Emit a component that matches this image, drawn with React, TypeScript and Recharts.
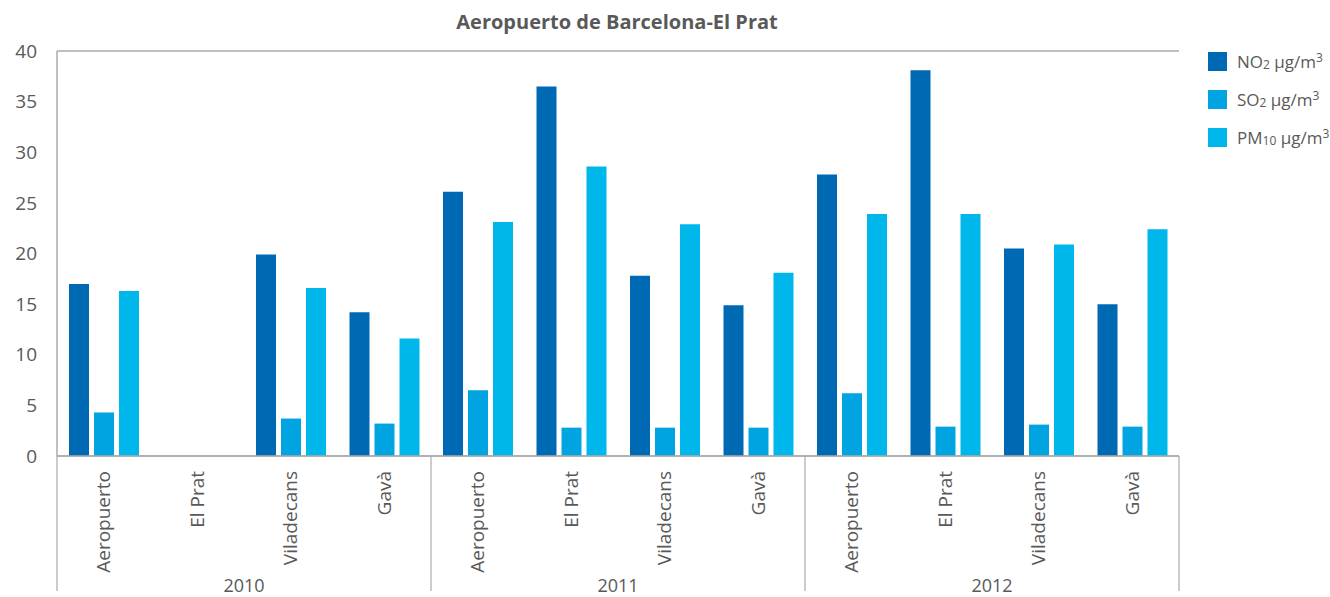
import React from "react";
import { BarChart, Bar, XAxis, YAxis, CartesianGrid } from "recharts";

const years = ["2010", "2011", "2012"];
const stations = ["Aeropuerto", "El Prat", "Viladecans", "Gavà"];

// one value per station per year, in the order years × stations
const no2 = [17.0, null, 19.9, 14.2, 26.1, 36.5, 17.8, 14.9, 27.8, 38.1, 20.5, 15.0];
const so2 = [4.3, null, 3.7, 3.2, 6.5, 2.8, 2.8, 2.8, 6.2, 2.9, 3.1, 2.9];
const pm10 = [16.3, null, 16.6, 11.6, 23.1, 28.6, 22.9, 18.1, 23.9, 23.9, 20.9, 22.4];

const yTicks = [0, 5, 10, 15, 20, 25, 30, 35, 40];

const series = [
  { key: "no2", base: "NO", sub: "2", color: "#0069b4" },
  { key: "so2", base: "SO", sub: "2", color: "#00a4e1" },
  { key: "pm10", base: "PM", sub: "10", color: "#00b7eb" },
];

const data = years.flatMap((year, yi) =>
  stations.map((station, si) => {
    const i = yi * stations.length + si;
    return { id: `${year}-${station}`, year, station, no2: no2[i], so2: so2[i], pm10: pm10[i] };
  })
);

const GREY = "#595959";
const LINE = "#ababab";
const FONT = "'Open Sans', 'Noto Sans', sans-serif";

// eslint-disable-next-line @typescript-eslint/no-explicit-any
function StationTick({ x, y, payload, index }: any) {
  const row = data[index];
  const half = payload?.offset ?? 46.8;
  const pos = index % stations.length;
  return (
    <g>
      {pos === 0 && <line x1={x - half} x2={x - half} y1={y} y2={591} stroke={LINE} strokeWidth={1.2} />}
      {index === data.length - 1 && (
        <line x1={x + half} x2={x + half} y1={y} y2={591} stroke={LINE} strokeWidth={1.2} />
      )}
      <text
        x={x}
        y={y + 15}
        dy="0.35em"
        textAnchor="end"
        transform={`rotate(-90, ${x}, ${y + 15})`}
        fill={GREY}
        fontSize={19}
        fontFamily={FONT}
      >
        {row.station}
      </text>
      {pos === 1 && (
        <text x={x + half} y={592} textAnchor="middle" fill={GREY} fontSize={18} fontFamily={FONT}>
          {row.year}
        </text>
      )}
    </g>
  );
}

function LegendBox() {
  return (
    <div style={{ fontFamily: FONT, color: GREY, fontSize: 17, whiteSpace: "nowrap", width: 122 }}>
      {series.map((s) => (
        <div key={s.key} style={{ display: "flex", alignItems: "center", height: 38 }}>
          <span style={{ width: 19, height: 19, background: s.color, flex: "none", marginRight: 10 }} />
          <span>
            {s.base}
            <sub style={{ fontSize: 12, verticalAlign: "-1px" }}>{s.sub}</sub> µg/m
            <sup style={{ fontSize: 12, verticalAlign: "6px" }}>3</sup>
          </span>
        </div>
      ))}
    </div>
  );
}

export default function App() {
  return (
    <div style={{ position: "absolute", left: 0, top: 0, width: 1330, height: 597, background: "#fff" }}>
      <div
        style={{
          position: "absolute",
          left: 0,
          width: 1234,
          top: 8,
          textAlign: "center",
          fontFamily: FONT,
          fontWeight: 700,
          fontSize: 20,
          color: GREY,
        }}
      >
        Aeropuerto de Barcelona-El Prat
      </div>
      <div style={{ position: "absolute", left: 1208, top: 42 }}>
        <LegendBox />
      </div>
      <BarChart
        width={1330}
        height={597}
        data={data}
        margin={{ top: 51, right: 151, bottom: 0, left: 0 }}
        barSize={20}
        barGap={5}
      >
        <CartesianGrid horizontal vertical={false} stroke={LINE} strokeWidth={1.5} />
        <XAxis
          dataKey="id"
          interval={0}
          height={141}
          tickSize={0}
          tickMargin={0}
          tickLine={false}
          axisLine={{ stroke: LINE, strokeWidth: 1.5 }}
          tick={<StationTick />}
        />
        <YAxis
          yAxisId="left"
          width={57}
          domain={[0, 40]}
          ticks={yTicks}
          interval={0}
          tickLine={false}
          tickMargin={14}
          axisLine={{ stroke: LINE, strokeWidth: 1.5 }}
          tick={{ fill: GREY, fontSize: 19, fontFamily: FONT }}
        />
        <YAxis
          yAxisId="right"
          orientation="right"
          width={0}
          domain={[0, 40]}
          tick={false}
          tickLine={false}
          axisLine={{ stroke: LINE, strokeWidth: 1.5 }}
        />
        {series.map((s) => (
          <Bar key={s.key} yAxisId="left" dataKey={s.key} fill={s.color} isAnimationActive={false} />
        ))}
      </BarChart>
    </div>
  );
}
